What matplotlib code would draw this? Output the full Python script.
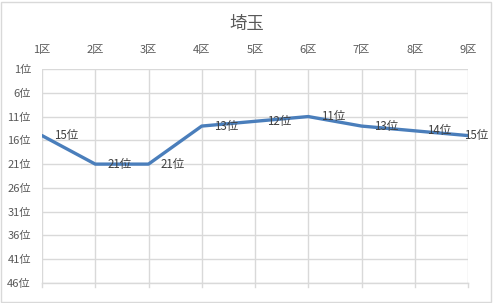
import matplotlib
matplotlib.use('Agg')
import matplotlib.pyplot as plt
from matplotlib.patches import Rectangle

plt.rcParams['font.family'] = ['Noto Sans CJK JP', 'DejaVu Sans']

districts = ['1区', '2区', '3区', '4区', '5区', '6区', '7区', '8区', '9区']
ranks = [15, 21, 21, 13, 12, 11, 13, 14, 15]
rank_ticks = [1, 6, 11, 16, 21, 26, 31, 36, 41, 46]

text_col = '#595959'
grid_col = '#D9D9D9'

fig = plt.figure(figsize=(4.94, 3.03), dpi=100)
ax = fig.add_axes([42 / 494, 1 - 283 / 303, (468 - 42) / 494, (283 - 69) / 303])

x = list(range(len(districts)))
ax.plot(x, ranks, color='#4A7EBB', linewidth=2.4, solid_capstyle='round', zorder=3)
for xi, r in zip(x, ranks):
    # the last label is pulled back so it stays inside the chart
    dx = 9 if xi < len(x) - 1 else -3
    ax.annotate(f'{r}位', (xi, r), xytext=(dx, 0), textcoords='offset points',
                ha='left', va='center', fontsize=8.3, color='#404040', zorder=4)

ax.set_xlim(0, len(districts) - 1)
ax.set_ylim(46, 1)
ax.set_xticks(x)
ax.set_xticklabels(districts)
ax.set_yticks(rank_ticks)
ax.set_yticklabels([f'{t}位' for t in rank_ticks])
ax.xaxis.tick_top()
ax.tick_params(axis='x', which='both', length=0, pad=10, labelsize=8, colors=text_col)
ax.tick_params(axis='y', length=0, pad=8, labelsize=8, colors=text_col)
ax.grid(True, color=grid_col, linewidth=1)
ax.set_axisbelow(True)
for s in ax.spines.values():
    s.set_visible(False)
ax.axhline(46, color=grid_col, linewidth=1, clip_on=False)
# small tick marks below the bottom line
for xi in x:
    ax.plot([xi, xi], [46, 46.9], color=grid_col, linewidth=1, clip_on=False)

fig.text(0.5, 1 - 24 / 303, '埼玉', ha='center', va='center', fontsize=12.5, color=text_col)
fig.add_artist(Rectangle((1 / 494, 1 / 303), 490 / 494, 300 / 303, transform=fig.transFigure,
                         fill=False, edgecolor=grid_col, linewidth=1))

fig.savefig('out.png', dpi=100)
